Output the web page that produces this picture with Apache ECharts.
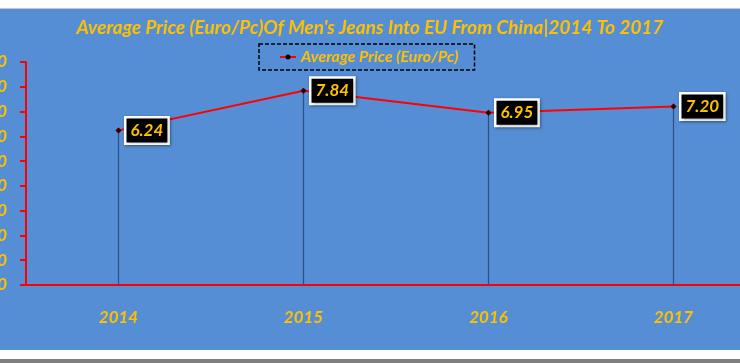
<!DOCTYPE html>
<html><head><meta charset="utf-8">
<script src="https://cdn.jsdelivr.net/npm/echarts@6/dist/echarts.min.js"></script>
<style>html,body{margin:0;padding:0;background:#fff;}#c{width:740px;height:363px;}</style>
</head><body><div id="c"></div>
<script>
const categories = ['2014', '2015', '2016', '2017'];
const seriesName = 'Average Price (Euro/Pc)';
const prices = [6.24, 7.84, 6.95, 7.20];
const titleText = "Average Price (Euro/Pc)Of Men's Jeans Into EU From China|2014 To 2017";

const gold = '#FFC000';
const fontFam = 'Lato';
const chart = echarts.init(document.getElementById('c'));
chart.setOption({
  backgroundColor: '#558ED5',
  animation: false,
  title: {
    text: titleText, left: 'center', top: 13,
    textStyle: { color: gold, fontSize: 19, fontWeight: 'bold', fontStyle: 'italic', fontFamily: fontFam }
  },
  legend: {
    data: [{ name: seriesName, icon: 'path://M0,4 L16,4 L16,6 L0,6 Z' }],
    left: 259, top: 44,
    padding: [5, 16, 5, 21],
    borderColor: '#000', borderWidth: 1.5, borderType: [4, 2],
    itemWidth: 16, itemHeight: 6, itemGap: 0,
    textStyle: { color: gold, fontSize: 16, fontWeight: 'bold', fontStyle: 'italic', fontFamily: fontFam }
  },
  graphic: [
    { type: 'rect', shape: { x: 0, y: 0, width: 740, height: 9 }, style: { fill: '#fff' }, z: 100 },
    { type: 'rect', shape: { x: 0, y: 8, width: 740, height: 1 }, style: { fill: '#C8C8C8' }, z: 101 },
    { type: 'rect', shape: { x: 0, y: 350, width: 740, height: 13 }, style: { fill: '#fff' }, z: 100 },
    { type: 'rect', shape: { x: 0, y: 359, width: 740, height: 4 }, style: { fill: '#7F7F7F' }, z: 101 },
    { type: 'circle', shape: { cx: 288, cy: 57, r: 2.5 }, style: { fill: '#000' }, z: 102 }
  ],
  grid: { left: 26, right: -26, top: 62, bottom: 78, containLabel: false, outerBoundsMode: 'none' },
  xAxis: {
    type: 'category', data: categories, boundaryGap: true,
    axisLine: { lineStyle: { color: '#FF0000', width: 2 } },
    axisTick: { show: false },
    axisLabel: { color: gold, fontSize: 17, fontWeight: 'bold', fontStyle: 'italic', fontFamily: fontFam, margin: 24 }
  },
  yAxis: {
    type: 'value', min: 0, max: 9, interval: 1,
    axisLine: { show: true, lineStyle: { color: '#FF0000', width: 2 } },
    axisTick: { show: true, length: 6, lineStyle: { color: '#FF0000', width: 2 } },
    splitLine: { show: false },
    axisLabel: { color: gold, fontSize: 17, fontWeight: 'bold', fontStyle: 'italic', fontFamily: fontFam, margin: 19,
      formatter: v => v.toFixed(2) }
  },
  series: [
    {
      name: 'drop', type: 'bar', data: prices, barWidth: 1.2, silent: true,
      itemStyle: { color: '#2E4E7E' }, legendHoverLink: false, z: 1
    },
    {
      name: seriesName, type: 'line', data: prices, z: 3,
      lineStyle: { color: '#FF0000', width: 2 },
      itemStyle: { color: '#FF0000' },
      symbol: 'diamond', symbolSize: 6,
      label: {
        show: true, position: 'right', distance: 5,
        formatter: p => p.value.toFixed(2),
        color: gold, fontSize: 17, fontWeight: 'bold', fontStyle: 'italic', fontFamily: fontFam,
        backgroundColor: '#000', borderColor: '#fff', borderWidth: 2.5,
        padding: [4, 4, 3, 4],
        shadowColor: 'rgba(0,0,0,0.4)', shadowBlur: 3, shadowOffsetX: 1, shadowOffsetY: 1
      }
    },
    {
      name: 'marker', type: 'scatter', data: prices, symbol: 'diamond', symbolSize: 6,
      itemStyle: { color: '#000' }, z: 4, silent: true
    }
  ]
});
</script></body></html>
